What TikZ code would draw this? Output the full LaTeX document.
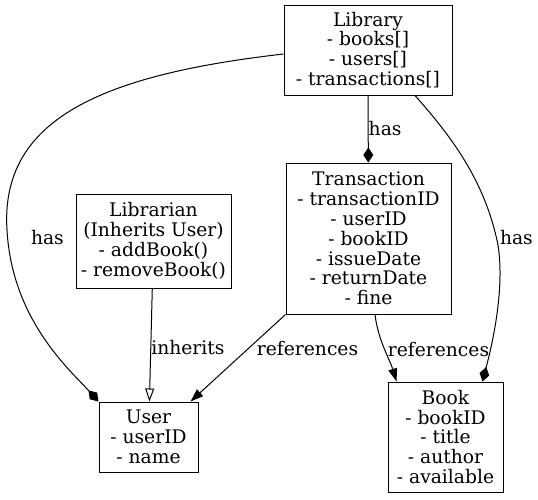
\documentclass[tikz,border=0pt]{standalone}
\usepackage{fontspec}
\setmainfont{DejaVu Serif}
\usetikzlibrary{arrows.meta, positioning}
\tikzstyle{entity} = [rectangle, draw, align=center, inner sep=0pt, font=\fontsize{18.7}{19.8}\selectfont]
\tikzstyle{lbl} = [inner sep=0pt, anchor=west, font=\fontsize{18.7}{19.8}\selectfont]
\tikzstyle{has} = [-{Diamond[length=15pt, width=10pt]}]
\tikzstyle{refs} = [-{Triangle[length=13pt, width=9pt]}]
\tikzstyle{inherits} = [-{Triangle[open, length=13pt, width=9pt, fill=white]}]

\begin{document}
\begin{tikzpicture}[x=1pt, y=-1pt, line width=1pt]
  \useasboundingbox (0,0) rectangle (538,499);
  \node (library) [entity, minimum width=168pt, minimum height=90pt] at (368,50) {Library\\- books[]\\- users[]\\- transactions[]};
  \node (transaction) [entity, minimum width=165pt, minimum height=151pt] at (368.5,238.5) {Transaction\\- transactionID\\- userID\\- bookID\\- issueDate\\- returnDate\\- fine};
  \node (librarian) [entity, minimum width=155pt, minimum height=94pt] at (153.5,241) {Librarian\\(Inherits User)\\- addBook()\\- removeBook()};
  \node (user) [entity, minimum width=99pt, minimum height=70pt] at (148.5,437) {User\\- userID\\- name};
  \node (book) [entity, minimum width=115pt, minimum height=110pt] at (445.5,437) {Book\\- bookID\\- title\\- author\\- available};
  \draw [has] (library) -- node[lbl] {has} (transaction);
  \draw [has] ([yshift=-4pt]library.west) .. controls (100,75) and (0,120) .. (7,230)
    node[lbl, xshift=23.5pt, yshift=-8pt] {has}
    .. controls (12,320) and (70,370) .. (user.north west);
  \draw [has] ([xshift=47pt]library.south) .. controls (450,135) and (485,180) .. (498,245)
    node[lbl, xshift=1.5pt, yshift=7pt] {has}
    .. controls (505,290) and (492,345) .. ([xshift=-21pt]book.north east);
  \draw [inherits] (librarian) -- node[lbl, yshift=-3pt] {inherits} (user);
  \draw [refs] (transaction.south west) -- node[lbl, pos=0.39, xshift=8pt] {references} ([xshift=-8pt]user.north east);
  \draw [refs] ([xshift=6.5pt]transaction.south) .. controls (378,340) and (390,360) ..
    node[lbl, pos=0.5, xshift=3pt] {references} ([xshift=9pt]book.north west);
\end{tikzpicture}
\end{document}
